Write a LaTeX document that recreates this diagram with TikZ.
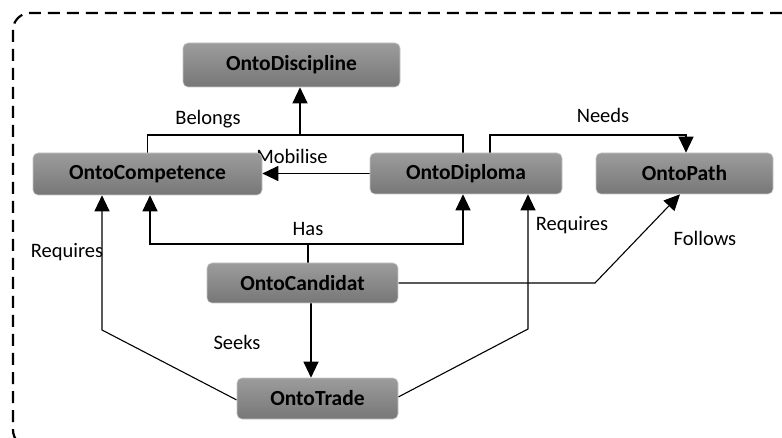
\documentclass[tikz,border=0pt]{standalone}
\usepackage{fontspec}
\setmainfont{Carlito}
\usetikzlibrary{arrows.meta,backgrounds}
\definecolor{boxtop}{HTML}{9C9C9C}
\definecolor{boxbot}{HTML}{777777}
\tikzset{
  onto/.style={rounded corners=5pt, top color=boxtop, bottom color=boxbot,
    draw=gray!45, line width=0.6pt, inner sep=0pt,
    font=\fontsize{21.5}{24}\selectfont\bfseries, text=black},
  link/.style={draw=black, line width=1.1pt},
  arr/.style={link, -{Triangle[width=15pt,length=16pt]}},
  lbl/.style={font=\fontsize{20.5}{24}\selectfont, text=black, inner sep=0pt},
  frame/.style={draw=black, line width=2.2pt, dash pattern=on 12pt off 7pt, rounded corners=17pt}
}
\begin{document}
\begin{tikzpicture}[x=1pt,y=-1pt]
\useasboundingbox (0,0) rectangle (782,438);
\clip (0,0) rectangle (782,438);
\draw[frame] (13,13) rectangle (800,447);

% ontology modules
\node[onto, minimum width=217pt, minimum height=44pt] (disc) at (291.5,65) {OntoDiscipline};
\node[onto, minimum width=229pt, minimum height=42pt] (comp) at (147.5,174) {OntoCompetence};
\node[onto, minimum width=192pt, minimum height=41pt] (dipl) at (466,173.5) {OntoDiploma};
\node[onto, minimum width=177pt, minimum height=41pt] (path) at (684.5,173.5) {OntoPath};
\node[onto, minimum width=191pt, minimum height=40pt] (cand) at (302.5,283) {OntoCandidat};
\node[onto, minimum width=161pt, minimum height=41pt] (trade) at (317.5,398.5) {OntoTrade};

% relations, kept behind the modules
\begin{scope}[on background layer]
  \fill[white] (0,0) rectangle (782,438);
  \coordinate (bj) at (300,135);
  \coordinate (nj) at (686,135);
  \coordinate (hj) at (308,244);
  \coordinate (rl) at (102,330);
  \coordinate (rr) at (528,329);
  \coordinate (fj) at (595,283);

  % Belongs
  \draw[link] (comp.north) |- (bj) -| ([xshift=-3pt]dipl.north);
  \draw[arr] (bj) -- (bj |- disc.south);
  % Mobilise
  \draw[arr] (dipl.west) -- (dipl.west -| comp.east);
  % Needs
  \draw[arr] ([xshift=24pt]dipl.north) |- (nj) -- (nj |- path.north);
  % Has
  \draw[link] ([xshift=5.5pt]cand.north) -- (hj);
  \draw[arr] (hj) -| ([xshift=2.5pt]comp.south);
  \draw[arr] (hj) -| ([xshift=-3pt]dipl.south);
  % Requires
  \draw[arr] ([yshift=-1.5pt]trade.west) -- (rl) -- (rl |- comp.south);
  \draw[arr] ([yshift=1.5pt]trade.east) -- (rr) -- (rr |- dipl.south);
  % Follows
  \draw[arr] (cand.east) -- (fj) -- ([xshift=-4.5pt]path.south);
  % Seeks
  \draw[arr] ([xshift=8.5pt]cand.south) -- ([xshift=8.5pt]cand.south |- trade.north);

  \node[lbl] (lbel) at (208,119) {Belongs};
  \node[lbl] (lmob) at (292,156) {Mobilise};
  \node[lbl] (lnee) at (603,115) {Needs};
  \node[lbl] (lhas) at (308,229) {Has};
  \node[lbl] (lreq1) at (67,252) {Requires};
  \node[lbl] (lreq2) at (572,225) {Requires};
  \node[lbl] (lfol) at (705,238) {Follows};
  \node[lbl] (lsee) at (237,342) {Seeks};
\end{scope}
\end{tikzpicture}
\end{document}
